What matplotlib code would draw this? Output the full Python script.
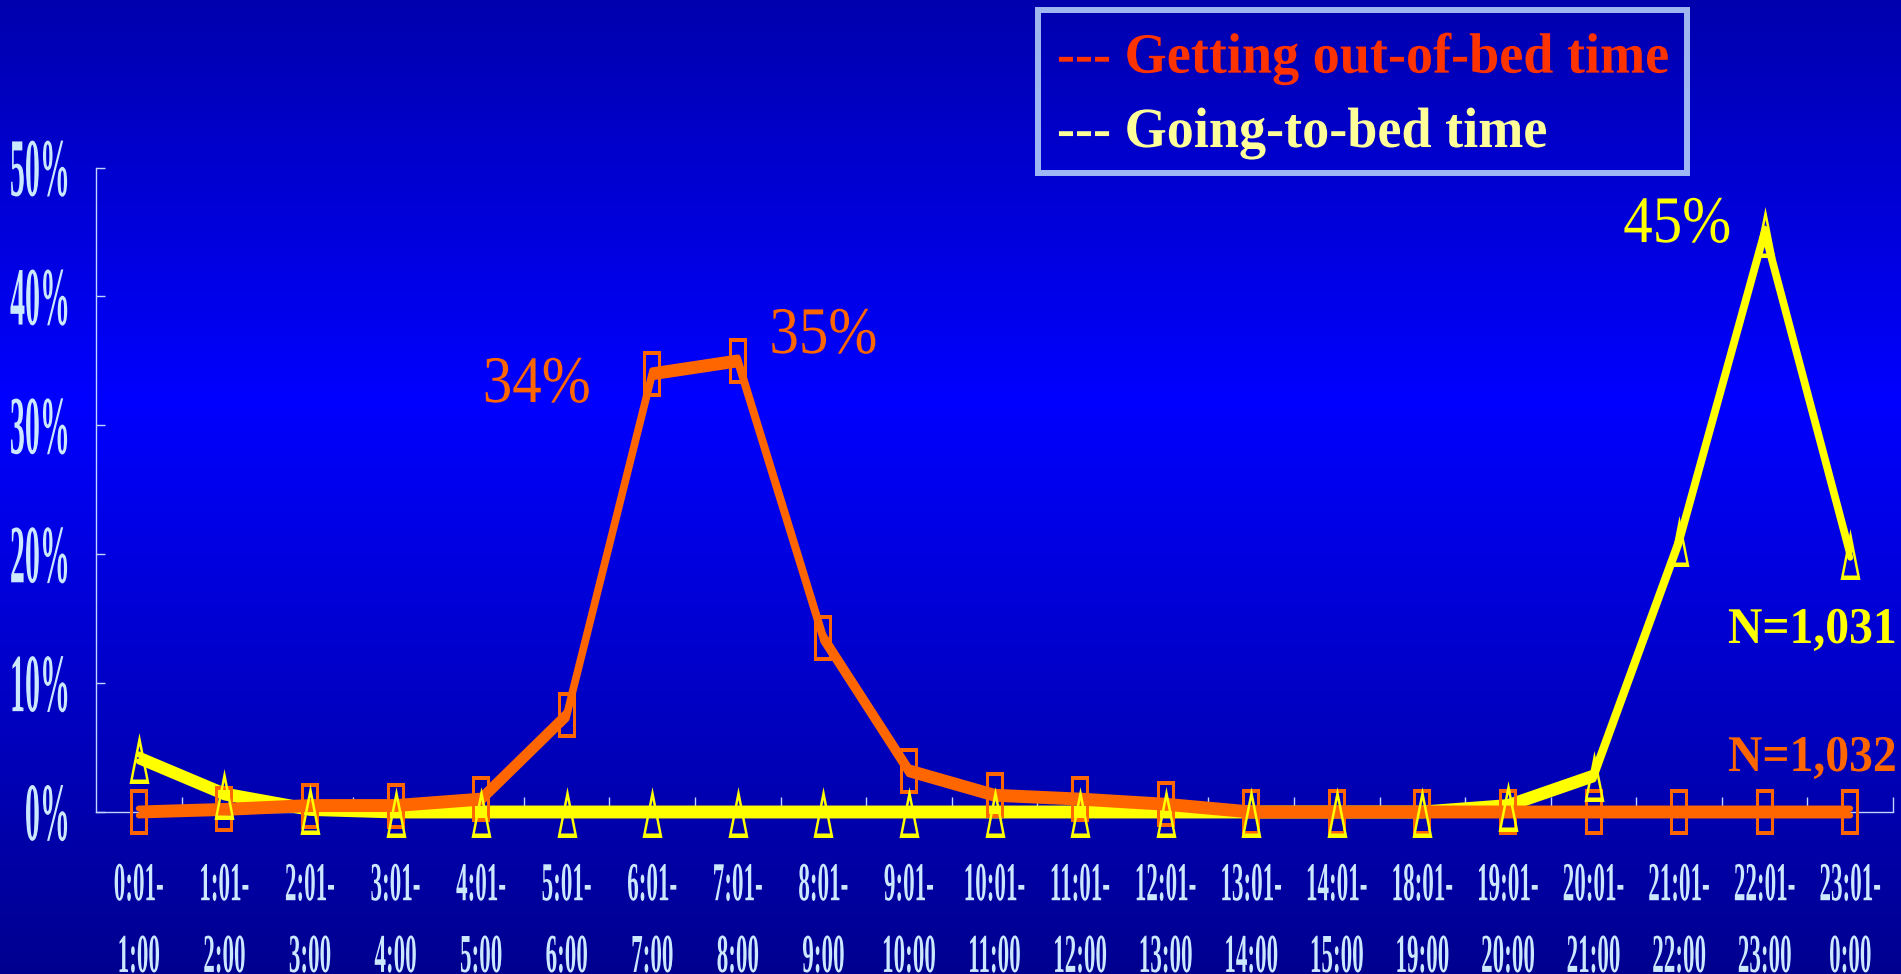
import numpy as np
import matplotlib
matplotlib.use("Agg")
import matplotlib.pyplot as plt
from matplotlib import patheffects
from matplotlib.path import Path
from matplotlib.lines import Line2D
from matplotlib.transforms import Affine2D

# Time slots (start / end of each hour)
slot_start = ["0:01-", "1:01-", "2:01-", "3:01-", "4:01-", "5:01-", "6:01-",
              "7:01-", "8:01-", "9:01-", "10:01-", "11:01-", "12:01-", "13:01-",
              "14:01-", "18:01-", "19:01-", "20:01-", "21:01-", "22:01-", "23:01-"]
slot_end = ["1:00", "2:00", "3:00", "4:00", "5:00", "6:00", "7:00",
            "8:00", "9:00", "10:00", "11:00", "12:00", "13:00", "14:00",
            "15:00", "19:00", "20:00", "21:00", "22:00", "23:00", "0:00"]

# Share of respondents per slot (%)
out_of_bed = [0, 0.2, 0.5, 0.5, 1.0, 7.5, 34, 35, 13.5, 3.2, 1.3,
              1.0, 0.6, 0, 0, 0, 0, 0, 0, 0, 0]
to_bed = [4.2, 1.4, 0.2, 0, 0, 0, 0, 0, 0, 0, 0,
          0, 0, 0, 0, 0, 0.5, 2.8, 21, 45, 20]

y_ticks = [0, 10, 20, 30, 40, 50]
legend_labels = ["--- Getting out-of-bed time", "--- Going-to-bed time"]
n_out_of_bed = "N=1,032"
n_to_bed = "N=1,031"

ORANGE = "#ff6600"
YELLOW = "#ffff00"
TICK = "#cce8ff"
AXIS = "#c0d4ff"

plt.rcParams["font.family"] = ["Liberation Serif", "DejaVu Serif"]


class Tall(patheffects.AbstractPathEffect):
    # draws the text stretched vertically around its baseline
    def __init__(self, sy, offset=(0, 0)):
        super().__init__(offset)
        self.sy = sy

    def draw_path(self, renderer, gc, tpath, affine, rgbFace=None):
        affine = Affine2D().scale(1, self.sy) + affine + self._offset_transform(renderer)
        renderer.draw_path(gc, tpath, affine, rgbFace)


W, H, DPI = 1901, 974, 100
fig = plt.figure(figsize=(W / DPI, H / DPI), dpi=DPI, facecolor="#0000c0")

# blue gradient behind everything
bg = fig.add_axes([0, 0, 1, 1], zorder=-10)
rows = np.linspace(0, 1, 500)
grad = np.zeros((500, 1, 3))
grad[:, 0, 2] = np.interp(rows, [0, 0.41, 1], [0.68, 1.0, 0.56])
bg.imshow(grad, aspect="auto", extent=[0, 1, 0, 1], origin="upper")
bg.axis("off")

ax = fig.add_axes([96 / W, 162 / H, 1797 / W, 644.4 / H])
ax.set_facecolor("none")
x = np.arange(len(slot_start))
ax.set_xlim(-0.5, 20.5)
ax.set_ylim(0, 50)

for side in ["top", "right"]:
    ax.spines[side].set_visible(False)
for side in ["left", "bottom"]:
    ax.spines[side].set_color(AXIS)
    ax.spines[side].set_linewidth(1)


def thick_line(y, color, z):
    # band with a fixed vertical height, traced by a round pen on both edges
    y = np.array(y)
    band = 0.27
    ax.fill_between(x, y - band, y + band, color=color, lw=0, zorder=z, clip_on=False)
    for edge in (y - band, y + band):
        ax.plot(x, edge, color=color, lw=4.3, solid_capstyle="round",
                solid_joinstyle="round", zorder=z, clip_on=False)


thick_line(to_bed, YELLOW, 3)
thick_line(out_of_bed, ORANGE, 4)

# hollow markers: tall box and tall triangle
rect = Path([(-9, -23.5), (9, -23.5), (9, 23.5), (-9, 23.5), (0, 0),
             (-6.5, -19), (-6.5, 19), (6.5, 19), (6.5, -19), (0, 0)],
            [Path.MOVETO, Path.LINETO, Path.LINETO, Path.LINETO, Path.CLOSEPOLY] * 2)
tri = Path([(-10, -25.5), (10, -25.5), (0, 25.5), (0, 0),
            (-6.6, -21), (0, 12.5), (6.6, -21), (0, 0)],
           [Path.MOVETO, Path.LINETO, Path.LINETO, Path.CLOSEPOLY] * 2)
ax.plot(x, out_of_bed, ls="none", marker=rect, ms=33.8, mfc=ORANGE, mec="none",
        mew=0, zorder=5, clip_on=False)
ax.plot(x, to_bed, ls="none", marker=tri, ms=36.7, mfc=YELLOW, mec="none",
        mew=0, zorder=6, clip_on=False)

# axes ticks and labels
ax.set_xticks(x)
ax.set_xticks(x + 0.5, minor=True)
ax.set_xticklabels([f"{a}\n{b}" for a, b in zip(slot_start, slot_end)],
                   fontsize=16.6, fontweight="bold", color=TICK, linespacing=4.17,
                   path_effects=[Tall(2.38)])
ax.tick_params(axis="x", which="major", length=0, pad=52)
ax.tick_params(axis="x", which="minor", direction="in", length=10.8, width=1, color=AXIS)
ax.set_yticks(y_ticks)
ax.set_yticklabels([f"{v}%" for v in y_ticks], fontsize=21.6, fontweight="bold",
                   color=TICK, va="baseline", path_effects=[Tall(2.76, offset=(0, -20.2))])
ax.tick_params(axis="y", direction="in", length=6.5, width=1, color=AXIS, pad=18.7)

# peak values
peaks = [(6, out_of_bed[6], ORANGE, (-44.4, -20.3), "right"),
         (7, out_of_bed[7], ORANGE, (22.8, 5.7), "left"),
         (19, to_bed[19], YELLOW, (-24.2, -7.2), "right")]
for i, v, c, off, ha in peaks:
    ax.annotate(f"{v:.0f}%", xy=(i, v), xytext=off, textcoords="offset points",
                ha=ha, va="baseline", fontsize=42.4, color=c,
                path_effects=[Tall(1.13)], annotation_clip=False)

# sample sizes next to the last points
ax.annotate(n_to_bed, xy=(x[-1], to_bed[-1]), xytext=(-88, -63.9),
            textcoords="offset points", ha="left", va="baseline", fontsize=34.3,
            fontweight="bold", color=YELLOW, path_effects=[Tall(1.08)],
            annotation_clip=False)
ax.annotate(n_out_of_bed, xy=(x[-1], out_of_bed[-1]), xytext=(-88, 29.5),
            textcoords="offset points", ha="left", va="baseline", fontsize=34.3,
            fontweight="bold", color=ORANGE, path_effects=[Tall(1.08)],
            annotation_clip=False)

handles = [Line2D([], [], ls="none"), Line2D([], [], ls="none")]
leg = fig.legend(handles, legend_labels, loc="upper left",
                 bbox_to_anchor=(1038 / W, 1 - 10 / H), bbox_transform=fig.transFigure,
                 borderaxespad=0, fancybox=False, handlelength=0, handletextpad=0,
                 borderpad=0.35, labelspacing=0.45, labelcolor=["#ff3300", "#ffff99"],
                 prop={"weight": "bold", "size": 39})
leg.get_frame().set_facecolor("none")
leg.get_frame().set_edgecolor("#c8e6ff")
leg.get_frame().set_linewidth(4.3)
for t in leg.get_texts():
    t.set_path_effects([Tall(1.05, offset=(0, -3.6))])

fig.savefig("out.png", dpi=DPI)
